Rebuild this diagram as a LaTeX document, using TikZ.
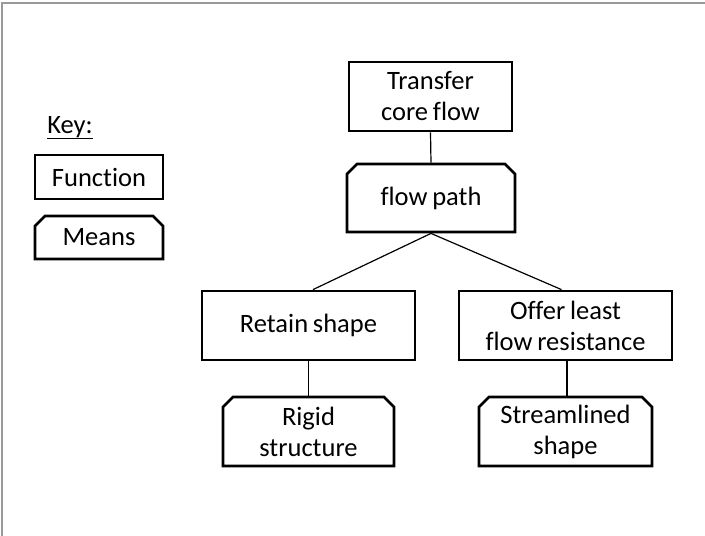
\documentclass[tikz,border=0pt]{standalone}
\usepackage{fontspec}
\setmainfont[Ligatures={NoCommon}, WordSpace=0.8]{Carlito}
\usetikzlibrary{shapes.misc,calc}
\tikzset{
  txt/.style={font=\fontsize{26.5}{31}\selectfont},
  func/.style={txt, draw, line width=2.8pt, rectangle, inner sep=0pt, align=center},
  means/.style={txt, draw, line width=2.8pt, chamfered rectangle,
    chamfered rectangle corners={north west,north east},
    chamfered rectangle xsep=5pt, chamfered rectangle ysep=5pt,
    inner sep=0pt, align=center},
  conn/.style={line width=1.2pt},
  frame/.style={draw=black!40, line width=2pt}
}
\begin{document}
\begin{tikzpicture}[x=1pt,y=-1pt]
\useasboundingbox (0,0) rectangle (705,536);
\draw[frame] (1.5,536) coordinate (fa) -- (1.5,3) coordinate (fb) -- (705,3) coordinate (fc);
% key
\node[txt, anchor=base] (key) at (70,133) {\underline{Key:}};
\node[func, minimum width=128pt, minimum height=44pt] (kf) at (99,177) {Function};
\node[means, minimum width=128pt, minimum height=43pt] (km) at (99,237.5) {Means};
% tree
\node[func, minimum width=163pt, minimum height=69pt] (tcf) at (430.5,96.5) {Transfer\\core flow};
\node[means, minimum width=168pt, minimum height=68pt] (fp) at (431,198) {flow path};
\node[func, minimum width=213pt, minimum height=69pt] (rs) at (308.5,325.5) {Retain shape};
\node[func, minimum width=213pt, minimum height=69pt] (ol) at (565.5,325.5) {Offer least\\flow resistance};
\node[means, minimum width=171pt, minimum height=69pt] (rig) at (308.5,431.5) {Rigid\\structure};
\node[means, minimum width=173pt, minimum height=69pt] (str) at (565.5,431.5) {Streamlined\\shape};
\draw[conn] (tcf.south) -- (fp.north);
\draw[conn] (fp.south) -- ($(rs.north)+(4.5,0)$);
\draw[conn] (fp.south) -- ($(ol.north)+(-4,0)$);
\draw[conn] (rs.south) -- (rig.north);
\draw[conn] ($(ol.south)+(1.5,0)$) -- ($(str.north)+(1.5,0)$);
\end{tikzpicture}
\end{document}
